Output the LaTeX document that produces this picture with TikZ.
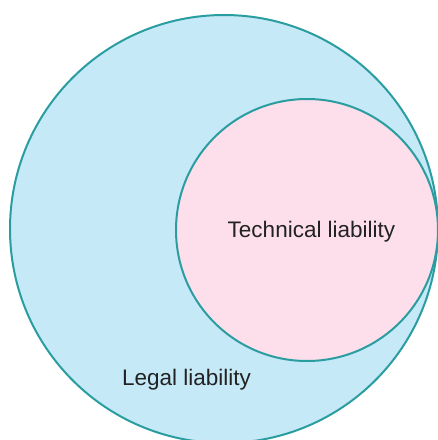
\documentclass[tikz,border=0pt]{standalone}
\usepackage{fontspec}
\setmainfont{Liberation Sans}
\definecolor{ringline}{HTML}{2A9DA0}
\definecolor{outerfill}{HTML}{C6E9F8}
\definecolor{innerfill}{HTML}{FCDFEA}
\definecolor{labeltext}{HTML}{222222}
\tikzset{
  ring/.style={draw=ringline, line width=2pt},
  label text/.style={text=labeltext, font=\fontsize{22.5}{26}\selectfont, inner sep=0pt}
}
\begin{document}
\begin{tikzpicture}[x=1pt, y=-1pt]
  \useasboundingbox (0,0) rectangle (438,440);
  \clip (0,0) rectangle (438,440);
  % outer set
  \node[ring, fill=outerfill, circle, minimum size=428pt, inner sep=0pt] (legal) at (224,229) {};
  % inner set
  \node[ring, fill=innerfill, circle, minimum size=262pt, inner sep=0pt] (technical) at (307,230) {};
  \node[label text] (techlabel) at (311.5,232) {Technical liability};
  \node[label text] (legallabel) at (186.5,380) {Legal liability};
\end{tikzpicture}
\end{document}
